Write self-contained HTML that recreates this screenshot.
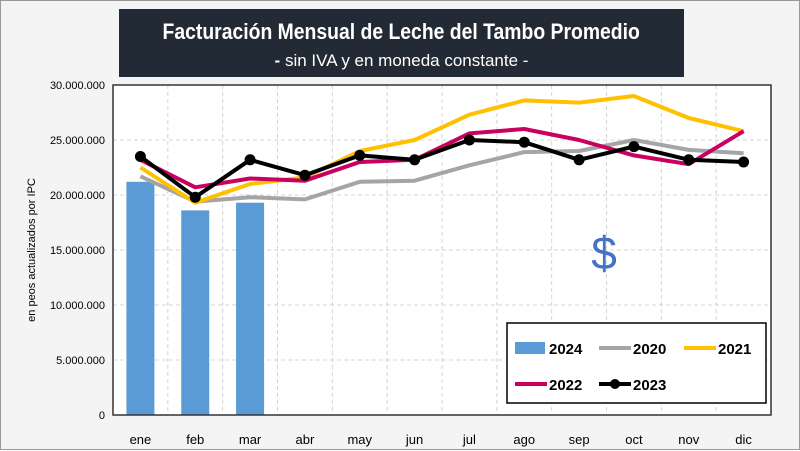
<!DOCTYPE html>
<html><head><meta charset="utf-8"><style>
body{margin:0;background:#fff;font-family:"Liberation Sans",sans-serif}
#wrap{position:relative;width:800px;height:450px;background:#f4f4f4;box-sizing:border-box;border:1px solid #999}
#title{position:absolute;left:118px;top:8px;width:565px;height:68px;background:#222a35;color:#fff;text-align:center;white-space:nowrap}
#title .t{font-size:22px;font-weight:bold;margin-top:10px;display:inline-block;transform:scaleX(0.88);transform-origin:center}
#title .s{font-size:17px;margin-top:6px}
</style></head><body>
<div id="wrap">
<div id="title"><div class="t">Facturación Mensual de Leche del Tambo Promedio</div><div class="s"><b>-</b> sin IVA y en moneda constante -</div></div>
<svg id="svg" width="800" height="450" style="position:absolute;left:0;top:0"></svg>
</div>
<script>
const months=["ene","feb","mar","abr","may","jun","jul","ago","sep","oct","nov","dic"];
const yTicks=[0,5,10,15,20,25,30];
const yTickLabels=["0","5.000.000","10.000.000","15.000.000","20.000.000","25.000.000","30.000.000"];
const s2024=[21.2,18.6,19.3];
const s2020=[21.7,19.4,19.8,19.6,21.2,21.3,22.7,23.9,24.0,25.0,24.1,23.8];
const s2021=[22.5,19.3,21.0,21.6,24.0,25.0,27.3,28.6,28.4,29.0,27.0,25.8];
const s2022=[23.2,20.7,21.5,21.3,23.0,23.2,25.6,26.0,25.0,23.6,22.8,25.8];
const s2023=[23.5,19.8,23.2,21.8,23.6,23.2,25.0,24.8,23.2,24.4,23.2,23.0];
const L=112,R=770,T=84,B=414;
const bw=(R-L)/months.length;
const x=i=>L+bw*(i+0.5);
const y=v=>B-(v/30)*(B-T);
const svg=document.getElementById('svg');
const NS="http://www.w3.org/2000/svg";
function mk(tag,at,parent){const e=document.createElementNS(NS,tag);for(const k in at)e.setAttribute(k,at[k]);(parent||svg).appendChild(e);return e;}
let bg=mk('rect',{x:L,y:T,width:R-L,height:B-T,fill:'#fff'});


yTicks.forEach((t,i)=>{
 if(t>0){let g=mk('line',{x1:L,x2:R,y1:y(t),y2:y(t),stroke:'#d4d4d4','stroke-dasharray':'4,3'});
 
 }
 let tx=mk('text',{x:104,y:y(t)+4,'text-anchor':'end','font-size':11,fill:'#000','font-family':'Liberation Sans'});
 tx.textContent=yTickLabels[i];
 
 
});
months.forEach((m,i)=>{
 if(i>0){let g=mk('line',{x1:L+bw*i,x2:L+bw*i,y1:T,y2:B,stroke:'#d4d4d4','stroke-dasharray':'4,3'});
 
 }
 let tx=mk('text',{x:x(i),y:443,'text-anchor':'middle','font-size':13,fill:'#000','font-family':'Liberation Sans'});
 tx.textContent=m;
 
 
});
s2024.forEach((v,i)=>{
 let r=mk('rect',{x:x(i)-14,y:y(v),width:28,height:B-y(v),fill:'#5b9bd5'});
 
 
});
function line(arr,col,name){
 let p=mk('polyline',{points:arr.map((v,i)=>x(i)+','+y(v)).join(' '),fill:'none',stroke:col,'stroke-width':4,'stroke-linejoin':'round'});
 
 
}
line(s2020,'#a5a5a5','line-2020');
line(s2021,'#ffc000','line-2021');
line(s2022,'#c9005f','line-2022');
line(s2023,'#000','line-2023');
s2023.forEach((v,i)=>{
 let c=mk('circle',{cx:x(i),cy:y(v),r:5.5,fill:'#000'});
 
 
});
let ax=mk('rect',{x:L,y:T,width:R-L,height:B-T,fill:'none',stroke:'#333','stroke-width':1.5});


let yt=mk('text',{x:0,y:0,transform:'translate(34,249) rotate(-90)','text-anchor':'middle','font-size':11,'font-family':'Liberation Sans'});
yt.textContent='en peos actualizados por IPC';


let dol=mk('text',{x:603,y:268,'text-anchor':'middle','font-size':46,fill:'#4472c4','font-family':'Liberation Sans'});
dol.textContent='$';


let lg=mk('rect',{x:506,y:322,width:259,height:80,fill:'#fff',stroke:'#000','stroke-width':1.5});


const leg=[['2024','#5b9bd5',0,514,347],['2020','#a5a5a5',1,598,347],['2021','#ffc000',1,683,347],['2022','#c9005f',1,514,383],['2023','#000',2,598,383]];
leg.forEach(([n,c,t,lx,ly])=>{
 if(t===0){mk('rect',{x:lx,y:ly-6,width:30,height:12,fill:c});}
 else{mk('line',{x1:lx,x2:lx+32,y1:ly,y2:ly,stroke:c,'stroke-width':4});
  if(t===2)mk('circle',{cx:lx+16,cy:ly,r:5,fill:c});}
 let tx=mk('text',{x:lx+34,y:ly+6,'font-size':15,'font-weight':'bold','font-family':'Liberation Sans'});
 tx.textContent=n;
 
 
});
</script>
</body></html>
